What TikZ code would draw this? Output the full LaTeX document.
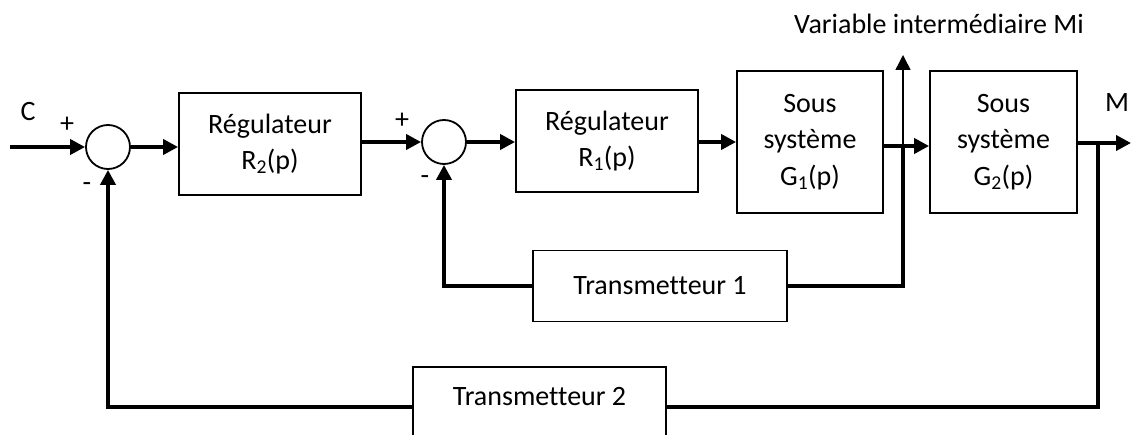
\documentclass[tikz,border=0pt]{standalone}
\usepackage{fontspec}
\setmainfont{Carlito}[Ligatures=NoCommon]
\usetikzlibrary{arrows.meta}
\tikzset{
  blk/.style={draw, line width=1.8pt, inner sep=0pt, align=center},
  sumnode/.style={draw, circle, line width=1.8pt, minimum size=44pt, inner sep=0pt},
  sig/.style={line width=3.8pt, -{Triangle[length=15pt,width=15pt]}},
  wire/.style={line width=3.8pt},
  thinsig/.style={line width=1.5pt, -{Triangle[length=15pt,width=15pt]}},
  lbl/.style={inner sep=0pt}
}
\begin{document}
\begin{tikzpicture}[x=1pt, y=-1pt, font=\fontsize{28}{36.5}\selectfont]
\useasboundingbox (0,0) rectangle (1131,435);
\clip (0,0) rectangle (1131,435);
% nodes
\node[sumnode] (s1) at (108,147) {};
\node[blk, minimum width=182pt, minimum height=102pt] (R2) at (270,144) {Régulateur\\R\textsubscript{2}(p)};
\node[sumnode] (s2) at (444,142) {};
\node[blk, minimum width=182pt, minimum height=102pt] (R1) at (607,141) {Régulateur\\R\textsubscript{1}(p)};
\node[blk, minimum width=146pt, minimum height=142pt] (G1) at (810,142) {Sous\\système\\G\textsubscript{1}(p)};
\node[blk, minimum width=147pt, minimum height=142pt] (G2) at (1003.5,142) {Sous\\système\\G\textsubscript{2}(p)};
\node[blk, minimum width=254pt, minimum height=71pt] (T1) at (660,286) {Transmetteur 1};
\node[blk, minimum width=253pt, minimum height=80pt] (T2) at (539.5,407) {};
\node[lbl] (T2l) at (539.5,397) {Transmetteur 2};
% coordinates
\coordinate (in) at (10,147);
\coordinate (j1) at (903,146);
\coordinate (mi) at (903,55);
\coordinate (j2) at (1098,143);
\coordinate (out) at (1131,143);
% labels
\node[lbl] (C) at (28,112) {C};
\node[lbl] (p1) at (67,125) {+};
\node[lbl] (m1) at (87,187) {-};
\node[lbl] (p2) at (402,121) {+};
\node[lbl] (m2) at (425,180) {-};
\node[lbl] (M) at (1117,103) {M};
\node[lbl, anchor=base] (Mi) at (939,34) {Variable intermédiaire Mi};
% connectors
\draw[sig] (in) -- (s1.west);
\draw[sig] (s1.east) -- (R2.west |- s1.east);
\draw[sig] (R2.east |- s2.west) -- (s2.west);
\draw[sig] (s2.east) -- (R1.west |- s2.east);
\draw[sig] (R1.east |- s2.east) -- (G1.west |- s2.east);
\draw[sig] (G1.east |- j1) -- (G2.west |- j1);
\draw[sig] (G2.east |- j2) -- (out);
\draw[wire] (j1) |- (T1.east);
\draw[sig] (T1.west) -| (s2.south);
\draw[wire] (j2) |- (T2.east);
\draw[sig] (T2.west) -| (s1.south);
\draw[thinsig] (j1) -- (mi);
\end{tikzpicture}
\end{document}
